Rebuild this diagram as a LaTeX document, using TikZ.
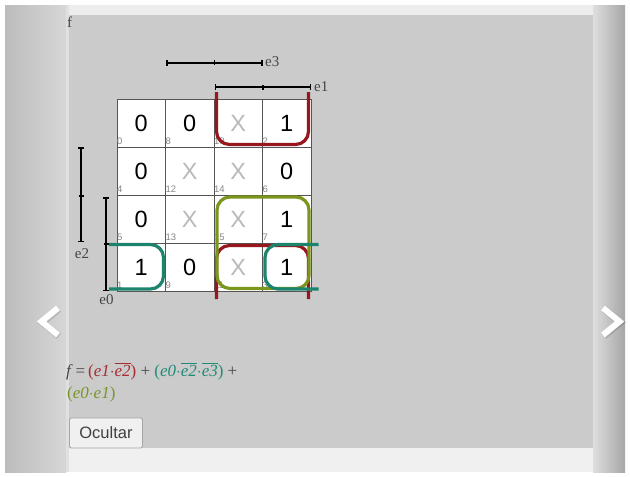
\documentclass[tikz,border=0pt]{standalone}
\usepackage{fontspec}
\setmainfont{Liberation Serif}
\setsansfont{Liberation Sans}
\usetikzlibrary{arrows.meta}
\definecolor{loopred}{RGB}{150,24,30}
\definecolor{loopteal}{RGB}{28,132,108}
\definecolor{loopolive}{RGB}{122,150,28}
\definecolor{fred}{RGB}{165,45,50}
\definecolor{fteal}{RGB}{35,140,120}
\definecolor{folive}{RGB}{120,150,40}
\definecolor{fgray}{RGB}{70,70,70}
\definecolor{panel}{RGB}{203,203,203}
\definecolor{gridc}{RGB}{85,85,85}
\definecolor{xgray}{RGB}{185,185,185}
\definecolor{idxgray}{RGB}{135,135,135}
\newcommand\ovl[1]{$\overline{\mbox{\textit{#1}}}$}
\begin{document}
\begin{tikzpicture}[x=1pt,y=-1pt,
  cellbox/.style={draw=gridc, line width=0.9pt, fill=white, minimum width=48.5pt,
    minimum height=48pt, inner sep=0pt, font=\sffamily\fontsize{23.5}{23.5}\selectfont},
  idx/.style={inner sep=0pt, text=idxgray, font=\sffamily\fontsize{9.5}{9.5}\selectfont},
  barline/.style={line width=1.8pt, {Bar[width=6pt,line width=1.5pt]}-{Bar[width=6pt,line width=1.5pt]}},
  midtick/.style={line width=1.5pt},
  varlabel/.style={inner sep=0pt, font=\fontsize{15}{15}\selectfont, text=fgray},
  loopline/.style={line width=3.2pt, rounded corners=13pt},
  formula/.style={inner sep=0pt, font=\fontsize{17}{17}\selectfont, text=fgray},
  chev/.style={line width=6pt, white, line join=miter, line cap=butt},
  chevshadow/.style={line width=7pt, black, opacity=0.12, line join=miter},
  buttonbox/.style={draw=black!35, fill=black!6, rounded corners=1.5pt, line width=0.8pt,
    minimum width=73pt, minimum height=30pt, inner sep=0pt,
    font=\sffamily\fontsize{16.5}{16.5}\selectfont, text=black!75}
]
\useasboundingbox (0,0) rectangle (630,477);
% background
\fill[white] (0,0) rectangle (630,477);
\fill[black!8] (5,5) rectangle (625,472);
\shade[left color=black!26, right color=black!16] (5,5) rectangle (66,472);
\fill[black!12] (66,5) rectangle (69,472);
\shade[left color=black!13, right color=black!35] (593,5) rectangle (625,472);
\fill[black!7] (69,5) rectangle (593,15);
\fill[black!6] (69,448) rectangle (593,472);
\fill[panel] (69,15) rectangle (593,448);

% title
\node[varlabel, anchor=north west] (ftitle) at (67,17) {f};

% grid
\foreach \row [count=\i from 0] in {
  {0/0/black,0/8/black,X/10/xgray,1/2/black},
  {0/4/black,X/12/xgray,X/14/xgray,0/6/black},
  {0/5/black,X/13/xgray,X/15/xgray,1/7/black},
  {1/1/black,0/9/black,X/11/xgray,1/3/black}}{
  \foreach \v/\ix/\c [count=\jj from 0] in \row {
    \node[cellbox, text=\c] (c-\i-\jj) at ({141.25+48.5*\jj},{123+48*\i}) {\v};
    \node[idx, anchor=base west, xshift=0.3pt, yshift=2.5pt] (ix-\i-\jj) at (c-\i-\jj.south west) {\ix};
  }
}

% variable bars
\coordinate (e3a) at (166,62.7); \coordinate (e3m) at (214.5,62.7); \coordinate (e3b) at (262.5,62.7);
\coordinate (e1a) at (214.5,87.3); \coordinate (e1m) at (263,87.3); \coordinate (e1b) at (311,87.3);
\coordinate (e2a) at (81,147); \coordinate (e2m) at (81,196); \coordinate (e2b) at (81,242);
\coordinate (e0a) at (106,197); \coordinate (e0m) at (106,244); \coordinate (e0b) at (106,291);
\draw[barline] (e3a) -- (e3b);
\draw[midtick] ([yshift=2.5pt]e3m) -- ([yshift=-2.5pt]e3m);
\draw[barline] (e1a) -- (e1b);
\draw[midtick] ([yshift=2.5pt]e1m) -- ([yshift=-2.5pt]e1m);
\draw[barline] (e2a) -- (e2b);
\draw[midtick] ([xshift=-2.5pt]e2m) -- ([xshift=2.5pt]e2m);
\draw[barline] (e0a) -- (e0b);
\draw[midtick] ([xshift=-2.5pt]e0m) -- ([xshift=2.5pt]e0m);
\node[varlabel, anchor=west] (le3) at (265,62) {e3};
\node[varlabel, anchor=west] (le1) at (314,86.5) {e1};
\node[varlabel] (le2) at (82,254) {e2};
\node[varlabel] (le0) at (106.5,300) {e0};

% loops
\draw[loopline, loopred] (216.5,92) -- (216.5,144.5) -- (308.5,144.5) -- (308.5,92);
\draw[loopline, loopred] (216.5,299) -- (216.5,245.5) -- (308.5,245.5) -- (308.5,299);
\draw[loopline, loopolive] (217,197) rectangle (309,288.5);
\draw[loopline, loopteal] (109,244.5) -- (163.5,244.5) -- (163.5,289) -- (109,289);
\draw[loopline, loopteal] (318.5,244.5) -- (265,244.5) -- (265,289) -- (318.5,289);

% formula
\node[formula, anchor=base west] (fl1) at (66,376) {\textit{f}\,=\,\textcolor{fred}{(\textit{e1}$\cdot$\ovl{e2})} + \textcolor{fteal}{(\textit{e0}$\cdot$\ovl{e2}$\cdot$\ovl{e3})} +};
\node[formula, anchor=base west, text=folive] (fl2) at (67,398) {(\textit{e0}$\cdot$\textit{e1})};

% button
\node[buttonbox] (btn) at (106,433) {Ocultar};

% navigation chevrons
\draw[chevshadow] (59,309) -- (42.5,322.5) -- (59,336);
\draw[chev] (58,308) -- (41.5,321.5) -- (58,335);
\draw[chevshadow] (604,309) -- (620.5,322.5) -- (604,336);
\draw[chev] (603,308) -- (619.5,321.5) -- (603,335);
\end{tikzpicture}
\end{document}
